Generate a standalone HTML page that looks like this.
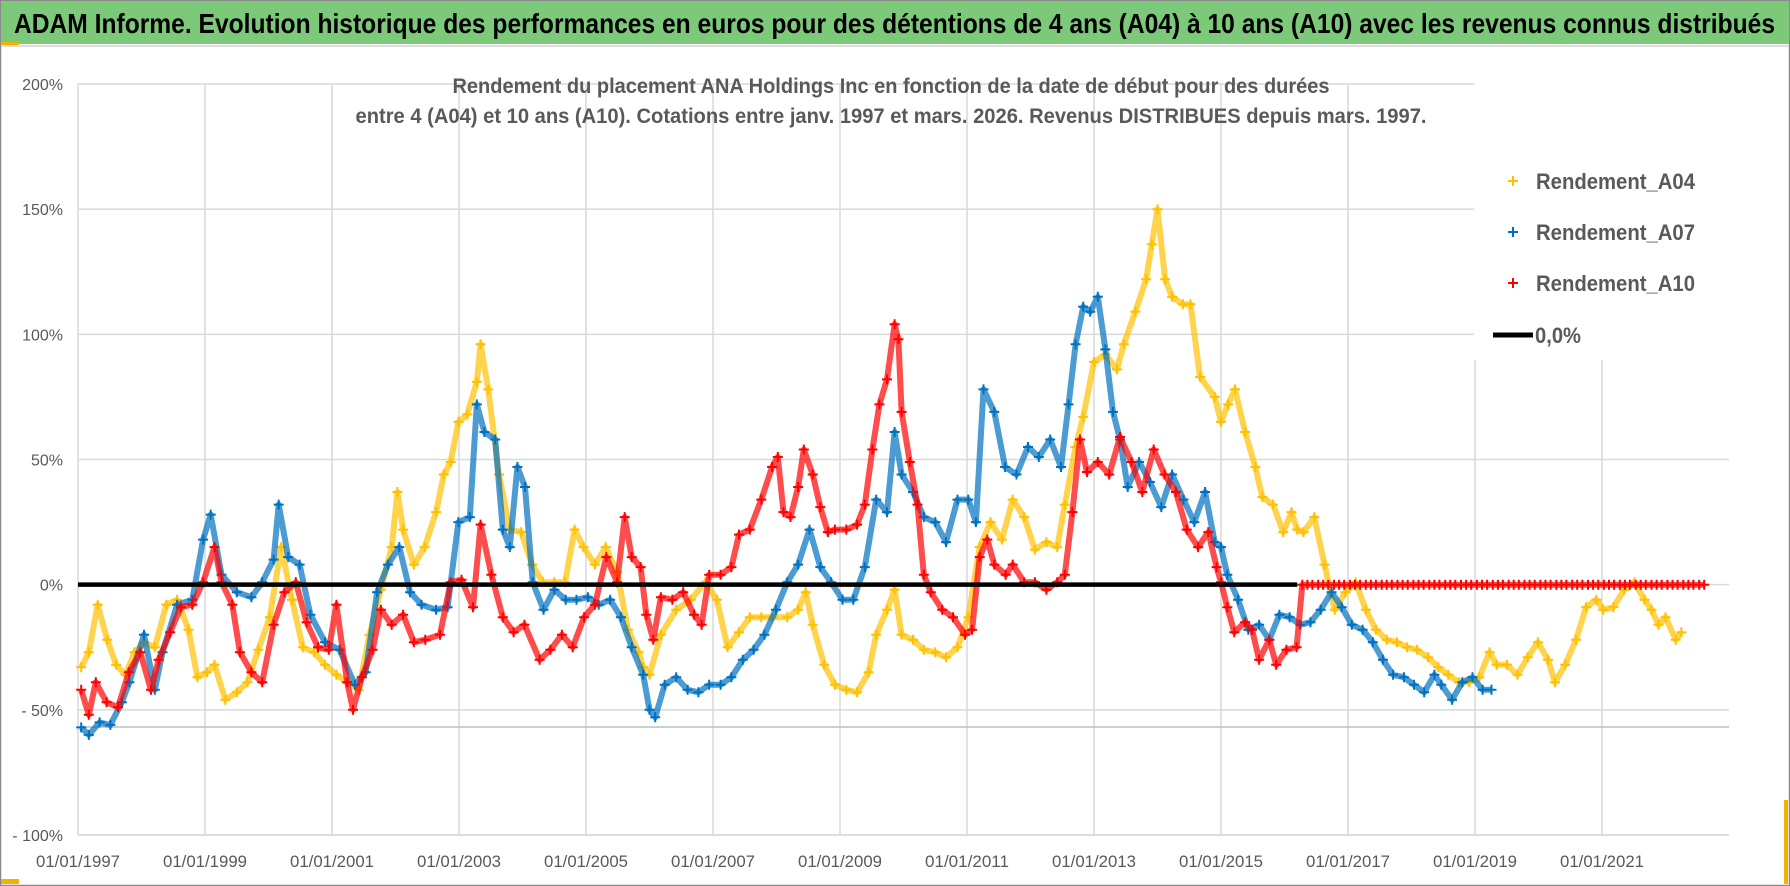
<!DOCTYPE html>
<html><head><meta charset="utf-8">
<style>
html,body{margin:0;padding:0;background:#fff;}
svg{display:block;font-family:"Liberation Sans",sans-serif;}
</style></head>
<body>
<svg id="chart" width="1790" height="886" viewBox="0 0 1790 886" xmlns="http://www.w3.org/2000/svg">
  <rect x="0" y="0" width="1790" height="886" fill="#fff"/>
  <rect x="0.5" y="0.5" width="1789" height="885" fill="none" stroke="#8a8a8a" stroke-width="1.5"/>
  <rect x="1" y="1" width="1788" height="43" fill="#7dc97a"/>
  <rect x="1" y="42" width="18" height="3" fill="#f0b400"/>
  <line x1="1" y1="46" x2="1789" y2="46" stroke="#d0d0d0" stroke-width="1.5"/>
  <text x="14" y="33" font-size="28" font-weight="bold" fill="#000" textLength="1761" lengthAdjust="spacingAndGlyphs">ADAM Informe. Evolution historique des performances en euros pour des détentions de 4 ans (A04) à 10 ans (A10) avec les revenus connus distribués</text>
  <rect x="1" y="879" width="18" height="5" fill="#f0b400"/>
  <rect x="1784" y="800" width="4" height="84" fill="#f0b400"/>
  <g id="grid"></g>
  <g id="axes"></g>
  <g id="series"></g>
  <text x="891" y="93" font-size="21" font-weight="bold" fill="#595959" text-anchor="middle" textLength="877" lengthAdjust="spacingAndGlyphs">Rendement du placement ANA Holdings Inc en fonction de la date de début pour des durées</text>
  <text x="891" y="123" font-size="21" font-weight="bold" fill="#595959" text-anchor="middle" textLength="1071" lengthAdjust="spacingAndGlyphs">entre 4 (A04) et 10 ans (A10).  Cotations entre janv. 1997 et mars. 2026. Revenus DISTRIBUES depuis mars. 1997.</text>
  <g id="legend"></g>
</svg>
<script>
// ---- data ----
const yTicks = [200, 150, 100, 50, 0, -50, -100];
const yTickLabels = ["200%", "150%", "100%", "50%", "0%", "- 50%", "- 100%"];
const xTickYears = [1997, 1999, 2001, 2003, 2005, 2007, 2009, 2011, 2013, 2015, 2017, 2019, 2021];
const xTickLabels = ["01/01/1997","01/01/1999","01/01/2001","01/01/2003","01/01/2005","01/01/2007","01/01/2009","01/01/2011","01/01/2013","01/01/2015","01/01/2017","01/01/2019","01/01/2021"];
const seriesNames = ["Rendement_A04", "Rendement_A07", "Rendement_A10"];

const a04Dates = [1997.05,1997.17,1997.31,1997.46,1997.6,1997.75,1997.89,1998.04,1998.21,1998.39,1998.56,1998.74,1998.88,1999.03,1999.15,1999.32,1999.5,1999.67,1999.84,2000.02,2000.2,2000.37,2000.54,2000.72,2000.89,2001.07,2001.24,2001.42,2001.59,2001.77,2001.94,2002.03,2002.12,2002.29,2002.46,2002.64,2002.76,2002.87,2002.99,2003.13,2003.28,2003.34,2003.46,2003.63,2003.8,2003.98,2004.15,2004.32,2004.5,2004.67,2004.82,2004.96,2005.14,2005.31,2005.49,2005.66,2005.83,2005.9,2006.0,2006.18,2006.42,2006.65,2006.88,2007.06,2007.23,2007.41,2007.58,2007.76,2007.93,2008.17,2008.34,2008.46,2008.57,2008.75,2008.92,2009.1,2009.27,2009.45,2009.57,2009.74,2009.86,2009.97,2010.15,2010.32,2010.5,2010.67,2010.85,2011.02,2011.2,2011.37,2011.55,2011.72,2011.9,2012.07,2012.25,2012.42,2012.54,2012.71,2012.83,2013.0,2013.18,2013.36,2013.47,2013.65,2013.82,2013.91,2014.0,2014.12,2014.23,2014.4,2014.52,2014.67,2014.9,2015.0,2015.11,2015.22,2015.38,2015.54,2015.65,2015.82,2015.98,2016.11,2016.2,2016.3,2016.47,2016.63,2016.79,2016.96,2017.12,2017.28,2017.44,2017.61,2017.77,2017.93,2018.09,2018.26,2018.42,2018.58,2018.75,2018.91,2019.07,2019.23,2019.34,2019.5,2019.67,2019.83,2019.99,2020.15,2020.26,2020.42,2020.59,2020.75,2020.91,2021.02,2021.18,2021.35,2021.51,2021.67,2021.78,2021.89,2022.0,2022.16,2022.25];
const a04Values = [-33,-27,-8,-22,-32,-36,-27,-23,-25,-8,-6,-18,-37,-35,-32,-46,-43,-39,-26,-13,15,-6,-25,-27,-32,-36,-39,-42,-20,-2,15,37,22,8,15,29,44,49,65,68,81,96,78,44,22,21,8,1,1,1,22,15,8,15,5,-18,-27,-33,-36,-20,-10,-6,1,-6,-25,-19,-13,-13,-13,-13,-10,-3,-16,-32,-40,-42,-43,-35,-20,-10,-2,-20,-22,-26,-27,-29,-25,-13,15,25,18,34,27,14,17,15,32,55,67,89,92,86,96,109,122,136,150,122,115,112,112,83,75,65,72,78,61,47,35,32,21,29,22,21,27,8,-10,-3,1,-10,-18,-22,-23,-25,-26,-29,-33,-36,-39,-39,-37,-27,-32,-32,-36,-29,-23,-30,-39,-32,-22,-9,-6,-10,-9,-2,1,-6,-10,-16,-13,-22,-19,-8,-8,-12];

const a07Dates = [1997.05,1997.17,1997.34,1997.51,1997.69,1997.81,1998.04,1998.21,1998.33,1998.56,1998.8,1998.97,1999.09,1999.26,1999.5,1999.73,1999.9,2000.08,2000.16,2000.31,2000.49,2000.66,2000.89,2001.12,2001.36,2001.53,2001.71,2001.88,2002.06,2002.23,2002.41,2002.64,2002.82,2002.99,2003.17,2003.28,2003.4,2003.57,2003.69,2003.8,2003.92,2004.04,2004.16,2004.33,2004.5,2004.68,2004.85,2005.03,2005.2,2005.38,2005.55,2005.72,2005.9,2006.0,2006.09,2006.24,2006.42,2006.6,2006.77,2006.94,2007.12,2007.29,2007.47,2007.64,2007.81,2007.99,2008.17,2008.34,2008.52,2008.69,2008.86,2009.04,2009.21,2009.39,2009.57,2009.74,2009.86,2009.97,2010.15,2010.32,2010.5,2010.67,2010.85,2011.02,2011.14,2011.26,2011.43,2011.6,2011.78,2011.96,2012.13,2012.31,2012.48,2012.6,2012.71,2012.83,2012.94,2013.06,2013.18,2013.3,2013.41,2013.53,2013.71,2013.88,2014.06,2014.23,2014.41,2014.58,2014.75,2014.9,2015.0,2015.1,2015.27,2015.43,2015.6,2015.76,2015.92,2016.08,2016.25,2016.41,2016.57,2016.74,2016.9,2017.06,2017.23,2017.39,2017.55,2017.71,2017.88,2018.04,2018.2,2018.36,2018.47,2018.64,2018.8,2018.96,2019.12,2019.26];
const a07Values = [-57,-60,-55,-56,-47,-39,-20,-42,-27,-8,-6,18,28,4,-3,-5,1,10,32,11,8,-12,-23,-26,-40,-35,-3,8,15,-3,-8,-10,-9,25,27,72,61,58,22,15,47,39,1,-10,-2,-6,-6,-5,-8,-6,-13,-25,-36,-50,-53,-40,-37,-42,-43,-40,-40,-37,-30,-26,-20,-10,1,8,22,7,1,-6,-6,7,34,29,61,44,37,27,25,17,34,34,25,78,69,47,44,55,51,58,47,72,96,111,109,115,94,69,58,39,49,41,31,44,34,25,37,17,15,4,-6,-18,-16,-22,-12,-13,-16,-15,-10,-3,-9,-16,-18,-23,-30,-36,-37,-40,-43,-36,-40,-46,-39,-37,-42,-42,-42];

const a10Dates = [1997.05,1997.17,1997.28,1997.45,1997.63,1997.8,1997.98,1998.15,1998.27,1998.45,1998.62,1998.8,1998.97,1999.15,1999.26,1999.43,1999.55,1999.73,1999.9,2000.08,2000.25,2000.43,2000.6,2000.78,2000.95,2001.07,2001.24,2001.33,2001.47,2001.64,2001.77,2001.94,2002.12,2002.29,2002.47,2002.7,2002.87,2003.04,2003.22,2003.34,2003.51,2003.69,2003.86,2004.03,2004.27,2004.44,2004.62,2004.79,2004.97,2005.14,2005.32,2005.49,2005.61,2005.72,2005.86,2005.95,2006.06,2006.18,2006.36,2006.53,2006.7,2006.82,2006.94,2007.12,2007.29,2007.41,2007.58,2007.76,2007.93,2008.02,2008.11,2008.22,2008.34,2008.43,2008.57,2008.69,2008.81,2008.92,2009.1,2009.27,2009.39,2009.51,2009.62,2009.74,2009.86,2009.92,2009.97,2010.1,2010.22,2010.32,2010.43,2010.61,2010.78,2010.97,2011.08,2011.2,2011.32,2011.43,2011.61,2011.72,2011.9,2012.07,2012.25,2012.42,2012.54,2012.66,2012.78,2012.89,2013.06,2013.24,2013.41,2013.59,2013.76,2013.94,2014.11,2014.29,2014.46,2014.64,2014.8,2014.93,2015.0,2015.1,2015.21,2015.38,2015.49,2015.6,2015.76,2015.87,2016.03,2016.19,2016.28,2016.36,2016.44,2016.53,2016.61,2016.69,2016.78,2016.86,2016.94,2017.03,2017.11,2017.19,2017.28,2017.36,2017.44,2017.53,2017.61,2017.69,2017.78,2017.86,2017.94,2018.03,2018.11,2018.19,2018.28,2018.36,2018.44,2018.53,2018.61,2018.69,2018.78,2018.86,2018.94,2019.03,2019.11,2019.19,2019.28,2019.36,2019.44,2019.53,2019.61,2019.69,2019.78,2019.86,2019.94,2020.03,2020.11,2020.19,2020.28,2020.36,2020.44,2020.53,2020.61,2020.69,2020.78,2020.86,2020.94,2021.03,2021.11,2021.19,2021.28,2021.36,2021.44,2021.53,2021.61,2021.69,2021.78,2021.86,2021.94,2022.03,2022.11,2022.19,2022.28,2022.36,2022.44,2022.53,2022.61,2022.69,2022.78,2022.86,2022.94,2023.03,2023.1];
const a10Values = [-42,-52,-39,-47,-49,-35,-27,-42,-30,-19,-9,-8,1,15,1,-8,-27,-35,-39,-16,-3,1,-15,-25,-26,-8,-39,-50,-37,-26,-10,-16,-12,-23,-22,-20,1,2,-9,24,4,-13,-19,-16,-30,-26,-20,-25,-13,-8,11,1,27,11,7,-12,-22,-5,-6,-3,-12,-16,4,4,7,20,22,34,47,51,29,27,39,54,44,31,21,22,22,24,32,54,72,82,104,98,69,49,32,4,-3,-10,-13,-20,-18,11,18,8,4,8,1,1,-2,1,4,29,58,45,49,44,59,49,37,54,44,37,22,15,21,7,1,-9,-19,-15,-18,-30,-22,-32,-26,-25,0,0,0,0,0,0,0,0,0,0,0,0,0,0,0,0,0,0,0,0,0,0,0,0,0,0,0,0,0,0,0,0,0,0,0,0,0,0,0,0,0,0,0,0,0,0,0,0,0,0,0,0,0,0,0,0,0,0,0,0,0,0,0,0,0,0,0,0,0,0,0,0,0,0,0,0,0];

const zeroLineDates = [1997.0, 2016.2];
const zeroLineValues = [0, 0];

// ---- axes ----
const NS = "http://www.w3.org/2000/svg";
const PLOT_L = 78, PLOT_R = 1729, PLOT_T = 84, PLOT_B = 835;
const X0 = 1997, X1 = 2023, Y0 = -100, Y1 = 200;
function xScale(yr){ return PLOT_L + (yr - X0) * (PLOT_R - PLOT_L) / (X1 - X0); }
function yScale(v){ return PLOT_B - (v - Y0) * (PLOT_B - PLOT_T) / (Y1 - Y0); }
const LEG_L = 1474, LEG_B = 360;

function mk(tag, attrs, parent){
  const e = document.createElementNS(NS, tag);
  for (const k in attrs) e.setAttribute(k, attrs[k]);
  parent.appendChild(e);
  return e;
}
const grid = document.getElementById('grid');
const axes = document.getElementById('axes');
const series = document.getElementById('series');
const legend = document.getElementById('legend');

yTicks.forEach((t, i) => {
  const y = yScale(t);
  const right = (y < LEG_B) ? LEG_L : PLOT_R;
  const ln = mk('line', {x1: PLOT_L, x2: right, y1: y, y2: y, stroke: t === -100 ? '#d0d0d0' : '#d9d9d9', 'stroke-width': 1.5}, grid);
  
  
  const lb = mk('text', {x: 63, y: y + 6, 'font-size': 16, fill: '#595959', 'text-anchor': 'end'}, axes);
  lb.textContent = yTickLabels[i];
  
  
});
xTickYears.forEach((yr, i) => {
  const x = xScale(yr);
  const top = (x >= LEG_L - 2) ? LEG_B : PLOT_T;
  const ln = mk('line', {x1: x, x2: x, y1: top, y2: PLOT_B, stroke: '#d9d9d9', 'stroke-width': 1.5}, grid);
  
  
  const lb = mk('text', {x: x, y: 867, 'font-size': 17, fill: '#595959', 'text-anchor': 'middle', textLength: 84, lengthAdjust: 'spacingAndGlyphs'}, axes);
  lb.textContent = xTickLabels[i];
  
  
});
const extra = mk('line', {x1: PLOT_L, x2: PLOT_R, y1: 727, y2: 727, stroke: '#bdbdbd', 'stroke-width': 1.5}, grid);



// ---- series ----
function drawSeries(dates, vals, color, name){
  const g = mk('g', {}, series);
  
  
  let d = '';
  dates.forEach((yr, i) => { d += (i ? 'L' : 'M') + xScale(yr).toFixed(1) + ' ' + yScale(vals[i]).toFixed(1); });
  const p = mk('path', {d: d, fill: 'none', stroke: color, 'stroke-width': 6, 'stroke-linejoin': 'round', opacity: 0.7}, g);
  
  
  let m = '';
  dates.forEach((yr, i) => {
    const x = xScale(yr), y = yScale(vals[i]);
    m += `M${(x-5).toFixed(1)} ${y.toFixed(1)}h10M${x.toFixed(1)} ${(y-5).toFixed(1)}v10`;
  });
  const mp = mk('path', {d: m, fill: 'none', stroke: color, 'stroke-width': 2}, g);
  
  
}
drawSeries(a04Dates, a04Values, '#FFC000', 'series-a04');
drawSeries(a07Dates, a07Values, '#0070C0', 'series-a07');
drawSeries(a10Dates, a10Values, '#FF0000', 'series-a10');
const zl = mk('line', {x1: xScale(zeroLineDates[0]), x2: xScale(zeroLineDates[1]), y1: yScale(zeroLineValues[0]), y2: yScale(zeroLineValues[1]), stroke: '#000', 'stroke-width': 4.5}, series);



// ---- legend ----
const legBg = mk('rect', {x: LEG_L, y: PLOT_T - 2, width: PLOT_R - LEG_L + 4, height: LEG_B - PLOT_T + 2, fill: '#fff'}, legend);


const legColors = ['#FFC000', '#0070C0', '#FF0000'];
const legY = [181, 232, 283];
seriesNames.forEach((n, i) => {
  const g = mk('g', {}, legend);
  
  
  const mkp = mk('path', {d: `M1508 ${legY[i]}h10M1513 ${legY[i]-5}v10`, stroke: legColors[i], 'stroke-width': 2}, g);
  
  
  const t = mk('text', {x: 1536, y: legY[i] + 8, 'font-size': 22, 'font-weight': 'bold', fill: '#595959', textLength: 159, lengthAdjust: 'spacingAndGlyphs'}, g);
  t.textContent = n;
  
  
});
const lg0 = mk('g', {}, legend);


const ll = mk('line', {x1: 1493, x2: 1533, y1: 335, y2: 335, stroke: '#000', 'stroke-width': 5}, lg0);


const lt = mk('text', {x: 1535, y: 343, 'font-size': 22, 'font-weight': 'bold', fill: '#595959', textLength: 46, lengthAdjust: 'spacingAndGlyphs'}, lg0);
lt.textContent = '0,0%';


</script>
</body></html>
